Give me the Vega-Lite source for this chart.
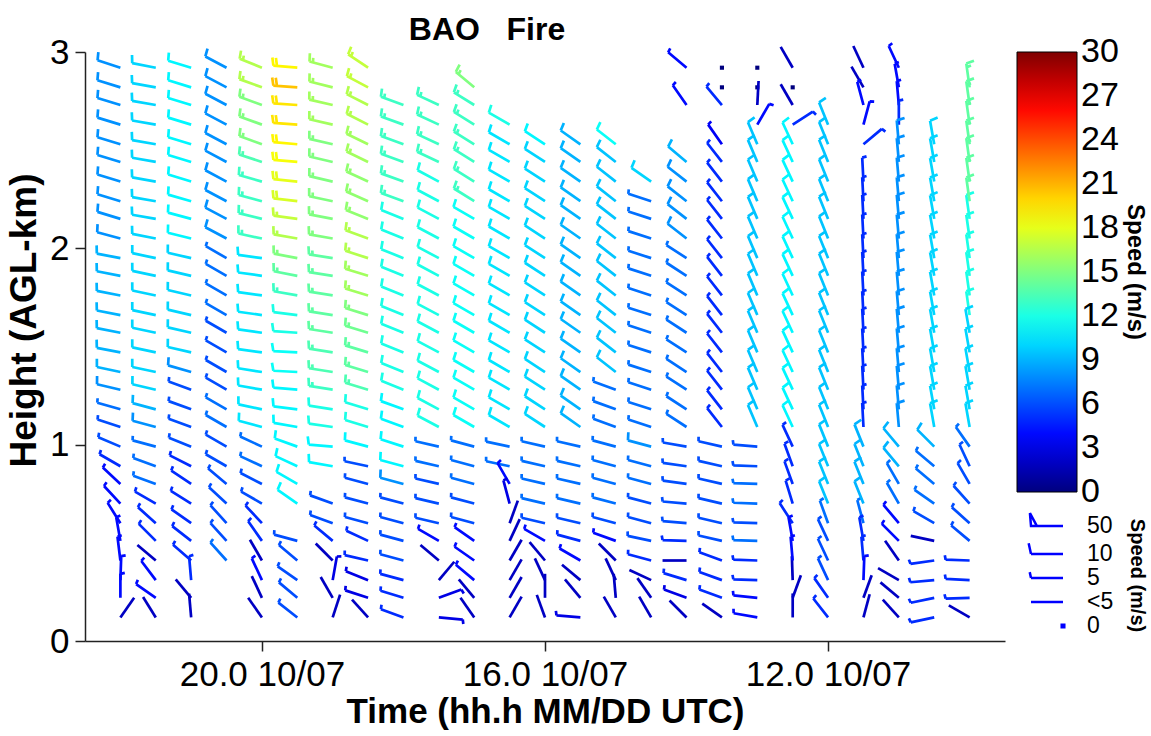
{
"$schema":"https://vega.github.io/schema/vega-lite/v6.json",
"width":920,"height":589,
"autosize":{"type":"none"},
"padding":{"left":85,"top":52,"right":146,"bottom":95},
"background":"white",
"config":{"font":"Liberation Sans","view":{"stroke":null},
"axis":{"domainColor":"#222","domainWidth":1.5,"tickColor":"#222","tickWidth":1.5,"tickSize":10,"labelColor":"black","titleColor":"black","labelFont":"Liberation Sans","titleFont":"Liberation Sans","labelFontSize":35,"titleFontSize":35,"titleFontWeight":"bold","grid":false,"labelFlush":false,"labelOverlap":false}},
"title":{"text":"BAO\u00a0\u00a0\u00a0Fire","fontSize":32,"fontWeight":"bold","font":"Liberation Sans","color":"black","anchor":"middle","frame":"group","dx":-58,"dy":24,"offset":12},
"resolve":{"axis":{"y":"independent"}},
"data":{"values":[
{"t":22,"h":2.92,"s":8,"d":288},{"t":22,"h":2.82,"s":8,"d":287},{"t":22,"h":2.73,"s":8,"d":287},{"t":22,"h":2.63,"s":8,"d":287},{"t":22,"h":2.53,"s":8,"d":287},{"t":22,"h":2.44,"s":8,"d":287},{"t":22,"h":2.34,"s":8,"d":287},{"t":22,"h":2.24,"s":8,"d":287},{"t":22,"h":2.15,"s":8,"d":287},{"t":22,"h":2.05,"s":8,"d":285},{"t":22,"h":1.95,"s":9,"d":281},{"t":22,"h":1.86,"s":9,"d":281},{"t":22,"h":1.76,"s":9,"d":281},{"t":22,"h":1.66,"s":9,"d":281},{"t":22,"h":1.57,"s":9,"d":281},{"t":22,"h":1.47,"s":9,"d":281},{"t":22,"h":1.37,"s":9,"d":282},{"t":22,"h":1.28,"s":8,"d":283},{"t":22,"h":1.18,"s":7,"d":286},{"t":22,"h":1.09,"s":6,"d":288},{"t":22,"h":0.99,"s":6,"d":293},{"t":22,"h":0.89,"s":5,"d":300},{"t":22,"h":0.8,"s":4,"d":313},{"t":22,"h":0.7,"s":4,"d":317},{"t":22,"h":0.6,"s":4,"d":328},{"t":22,"h":0.51,"s":4,"d":350},{"t":22,"h":0.41,"s":4,"d":353},{"t":22,"h":0.31,"s":4,"d":2},{"t":22,"h":0.22,"s":4,"d":0},{"t":22,"h":0.12,"s":2,"d":35},
{"t":21.5,"h":2.92,"s":10,"d":281},{"t":21.5,"h":2.82,"s":10,"d":280},{"t":21.5,"h":2.73,"s":10,"d":280},{"t":21.5,"h":2.63,"s":10,"d":280},{"t":21.5,"h":2.53,"s":10,"d":280},{"t":21.5,"h":2.44,"s":10,"d":280},{"t":21.5,"h":2.34,"s":10,"d":280},{"t":21.5,"h":2.24,"s":10,"d":280},{"t":21.5,"h":2.15,"s":10,"d":280},{"t":21.5,"h":2.05,"s":10,"d":281},{"t":21.5,"h":1.95,"s":10,"d":282},{"t":21.5,"h":1.86,"s":10,"d":282},{"t":21.5,"h":1.76,"s":10,"d":282},{"t":21.5,"h":1.66,"s":10,"d":282},{"t":21.5,"h":1.57,"s":10,"d":282},{"t":21.5,"h":1.47,"s":10,"d":282},{"t":21.5,"h":1.37,"s":10,"d":282},{"t":21.5,"h":1.28,"s":10,"d":283},{"t":21.5,"h":1.18,"s":9,"d":285},{"t":21.5,"h":1.09,"s":8,"d":285},{"t":21.5,"h":0.99,"s":7,"d":285},{"t":21.5,"h":0.89,"s":7,"d":290},{"t":21.5,"h":0.8,"s":7,"d":290},{"t":21.5,"h":0.7,"s":5,"d":300},{"t":21.5,"h":0.6,"s":5,"d":312},{"t":21.5,"h":0.51,"s":5,"d":315},{"t":21.5,"h":0.41,"s":2,"d":310},{"t":21.5,"h":0.31,"s":4,"d":323},{"t":21.5,"h":0.22,"s":4,"d":305},{"t":21.5,"h":0.12,"s":2,"d":328},
{"t":21,"h":2.92,"s":11,"d":287},{"t":21,"h":2.82,"s":11,"d":287},{"t":21,"h":2.73,"s":11,"d":287},{"t":21,"h":2.63,"s":11,"d":287},{"t":21,"h":2.53,"s":11,"d":287},{"t":21,"h":2.44,"s":11,"d":287},{"t":21,"h":2.34,"s":11,"d":287},{"t":21,"h":2.24,"s":11,"d":286},{"t":21,"h":2.15,"s":11,"d":285},{"t":21,"h":2.05,"s":11,"d":284},{"t":21,"h":1.95,"s":10,"d":283},{"t":21,"h":1.86,"s":10,"d":283},{"t":21,"h":1.76,"s":10,"d":283},{"t":21,"h":1.66,"s":10,"d":283},{"t":21,"h":1.57,"s":10,"d":283},{"t":21,"h":1.47,"s":10,"d":283},{"t":21,"h":1.37,"s":8,"d":286},{"t":21,"h":1.28,"s":6,"d":290},{"t":21,"h":1.18,"s":6,"d":290},{"t":21,"h":1.09,"s":6,"d":290},{"t":21,"h":0.99,"s":6,"d":292},{"t":21,"h":0.89,"s":5,"d":297},{"t":21,"h":0.8,"s":5,"d":304},{"t":21,"h":0.7,"s":5,"d":302},{"t":21,"h":0.6,"s":5,"d":305},{"t":21,"h":0.51,"s":5,"d":308},{"t":21,"h":0.41,"s":5,"d":311},{"t":21,"h":0.31,"s":5,"d":355},{"t":21,"h":0.22,"s":2,"d":320},{"t":21,"h":0.12,"s":2,"d":355},
{"t":20.5,"h":2.92,"s":8,"d":298},{"t":20.5,"h":2.82,"s":8,"d":298},{"t":20.5,"h":2.73,"s":8,"d":298},{"t":20.5,"h":2.63,"s":8,"d":298},{"t":20.5,"h":2.53,"s":8,"d":298},{"t":20.5,"h":2.44,"s":8,"d":298},{"t":20.5,"h":2.34,"s":8,"d":298},{"t":20.5,"h":2.24,"s":8,"d":298},{"t":20.5,"h":2.15,"s":8,"d":298},{"t":20.5,"h":2.05,"s":8,"d":298},{"t":20.5,"h":1.95,"s":7,"d":300},{"t":20.5,"h":1.86,"s":7,"d":300},{"t":20.5,"h":1.76,"s":7,"d":300},{"t":20.5,"h":1.66,"s":7,"d":300},{"t":20.5,"h":1.57,"s":6,"d":300},{"t":20.5,"h":1.47,"s":6,"d":300},{"t":20.5,"h":1.37,"s":6,"d":300},{"t":20.5,"h":1.28,"s":6,"d":300},{"t":20.5,"h":1.18,"s":7,"d":300},{"t":20.5,"h":1.09,"s":7,"d":300},{"t":20.5,"h":0.99,"s":6,"d":300},{"t":20.5,"h":0.89,"s":6,"d":300},{"t":20.5,"h":0.8,"s":6,"d":310},{"t":20.5,"h":0.7,"s":6,"d":313},{"t":20.5,"h":0.6,"s":6,"d":318},{"t":20.5,"h":0.51,"s":6,"d":318},{"t":20.5,"h":0.41,"s":7,"d":318},
{"t":20,"h":2.92,"s":16.5,"d":292},{"t":20,"h":2.82,"s":16.5,"d":290},{"t":20,"h":2.73,"s":15,"d":290},{"t":20,"h":2.63,"s":15,"d":290},{"t":20,"h":2.53,"s":15,"d":290},{"t":20,"h":2.44,"s":13.5,"d":288},{"t":20,"h":2.34,"s":13,"d":286},{"t":20,"h":2.24,"s":13,"d":285},{"t":20,"h":2.15,"s":13,"d":284},{"t":20,"h":2.05,"s":13,"d":282},{"t":20,"h":1.95,"s":10.5,"d":278},{"t":20,"h":1.86,"s":10.5,"d":278},{"t":20,"h":1.76,"s":10.5,"d":278},{"t":20,"h":1.66,"s":10.5,"d":278},{"t":20,"h":1.57,"s":10.5,"d":278},{"t":20,"h":1.47,"s":10.5,"d":278},{"t":20,"h":1.37,"s":10.5,"d":279},{"t":20,"h":1.28,"s":10.5,"d":280},{"t":20,"h":1.18,"s":10.5,"d":282},{"t":20,"h":1.09,"s":10.5,"d":285},{"t":20,"h":0.99,"s":7,"d":295},{"t":20,"h":0.89,"s":7,"d":295},{"t":20,"h":0.8,"s":6,"d":297},{"t":20,"h":0.7,"s":6,"d":300},{"t":20,"h":0.6,"s":5,"d":317},{"t":20,"h":0.51,"s":5,"d":325},{"t":20,"h":0.41,"s":2,"d":330},{"t":20,"h":0.31,"s":4,"d":335},{"t":20,"h":0.22,"s":2,"d":335},{"t":20,"h":0.12,"s":2,"d":325},
{"t":19.5,"h":2.92,"s":19,"d":275},{"t":19.5,"h":2.82,"s":20.5,"d":274},{"t":19.5,"h":2.73,"s":19.5,"d":274},{"t":19.5,"h":2.63,"s":19.5,"d":274},{"t":19.5,"h":2.53,"s":19,"d":275},{"t":19.5,"h":2.44,"s":18.5,"d":275},{"t":19.5,"h":2.34,"s":18,"d":276},{"t":19.5,"h":2.24,"s":17.6,"d":277},{"t":19.5,"h":2.15,"s":17,"d":278},{"t":19.5,"h":2.05,"s":16.5,"d":280},{"t":19.5,"h":1.95,"s":15,"d":281},{"t":19.5,"h":1.86,"s":14,"d":281},{"t":19.5,"h":1.76,"s":13,"d":280},{"t":19.5,"h":1.66,"s":12,"d":277},{"t":19.5,"h":1.57,"s":12,"d":274},{"t":19.5,"h":1.47,"s":11.5,"d":273},{"t":19.5,"h":1.37,"s":11.5,"d":273},{"t":19.5,"h":1.28,"s":11,"d":275},{"t":19.5,"h":1.18,"s":11,"d":277},{"t":19.5,"h":1.09,"s":11,"d":280},{"t":19.5,"h":0.99,"s":11,"d":290},{"t":19.5,"h":0.89,"s":11,"d":295},{"t":19.5,"h":0.8,"s":11,"d":300},{"t":19.5,"h":0.7,"s":11,"d":305},{"t":19.5,"h":0.51,"s":6,"d":285},{"t":19.5,"h":0.41,"s":6,"d":310},{"t":19.5,"h":0.31,"s":6,"d":305},{"t":19.5,"h":0.22,"s":6,"d":310},{"t":19.5,"h":0.12,"s":6,"d":308},
{"t":19,"h":2.92,"s":16,"d":285},{"t":19,"h":2.82,"s":16,"d":284},{"t":19,"h":2.73,"s":16,"d":283},{"t":19,"h":2.63,"s":16,"d":283},{"t":19,"h":2.53,"s":15,"d":283},{"t":19,"h":2.44,"s":15,"d":283},{"t":19,"h":2.34,"s":15,"d":283},{"t":19,"h":2.24,"s":15,"d":282},{"t":19,"h":2.15,"s":15,"d":281},{"t":19,"h":2.05,"s":15,"d":280},{"t":19,"h":1.95,"s":14,"d":279},{"t":19,"h":1.86,"s":14,"d":279},{"t":19,"h":1.76,"s":14,"d":279},{"t":19,"h":1.66,"s":14,"d":279},{"t":19,"h":1.57,"s":14,"d":279},{"t":19,"h":1.47,"s":13.5,"d":279},{"t":19,"h":1.37,"s":13.5,"d":279},{"t":19,"h":1.28,"s":13,"d":279},{"t":19,"h":1.18,"s":12,"d":279},{"t":19,"h":1.09,"s":12,"d":278},{"t":19,"h":0.99,"s":11,"d":275},{"t":19,"h":0.89,"s":11,"d":280},{"t":19,"h":0.7,"s":6,"d":290},{"t":19,"h":0.6,"s":6,"d":290},{"t":19,"h":0.51,"s":5,"d":310},{"t":19,"h":0.41,"s":2,"d":315},{"t":19,"h":0.31,"s":3,"d":10},{"t":19,"h":0.22,"s":2,"d":330},{"t":19,"h":0.12,"s":2,"d":18},
{"t":18.5,"h":2.92,"s":17,"d":304},{"t":18.5,"h":2.82,"s":17,"d":298},{"t":18.5,"h":2.73,"s":16.5,"d":297},{"t":18.5,"h":2.63,"s":16.5,"d":297},{"t":18.5,"h":2.53,"s":16,"d":296},{"t":18.5,"h":2.44,"s":16,"d":296},{"t":18.5,"h":2.34,"s":15.5,"d":295},{"t":18.5,"h":2.24,"s":15.5,"d":294},{"t":18.5,"h":2.15,"s":15.5,"d":292},{"t":18.5,"h":2.05,"s":16.5,"d":290},{"t":18.5,"h":1.95,"s":16.5,"d":288},{"t":18.5,"h":1.86,"s":16,"d":287},{"t":18.5,"h":1.76,"s":16,"d":287},{"t":18.5,"h":1.66,"s":15,"d":287},{"t":18.5,"h":1.57,"s":14.5,"d":287},{"t":18.5,"h":1.47,"s":14,"d":287},{"t":18.5,"h":1.37,"s":14,"d":287},{"t":18.5,"h":1.28,"s":13.5,"d":287},{"t":18.5,"h":1.18,"s":12,"d":287},{"t":18.5,"h":1.09,"s":12,"d":287},{"t":18.5,"h":0.99,"s":11,"d":285},{"t":18.5,"h":0.89,"s":6,"d":282},{"t":18.5,"h":0.8,"s":6,"d":285},{"t":18.5,"h":0.7,"s":6,"d":285},{"t":18.5,"h":0.6,"s":6,"d":285},{"t":18.5,"h":0.51,"s":5,"d":295},{"t":18.5,"h":0.41,"s":5,"d":283},{"t":18.5,"h":0.31,"s":3,"d":292},{"t":18.5,"h":0.22,"s":3,"d":288},{"t":18.5,"h":0.12,"s":2,"d":318},
{"t":18,"h":2.73,"s":13,"d":290},{"t":18,"h":2.63,"s":13,"d":290},{"t":18,"h":2.53,"s":13,"d":290},{"t":18,"h":2.44,"s":13,"d":290},{"t":18,"h":2.34,"s":13,"d":290},{"t":18,"h":2.24,"s":13,"d":290},{"t":18,"h":2.15,"s":12,"d":292},{"t":18,"h":2.05,"s":12,"d":292},{"t":18,"h":1.95,"s":12,"d":292},{"t":18,"h":1.86,"s":12,"d":292},{"t":18,"h":1.76,"s":12,"d":292},{"t":18,"h":1.66,"s":12,"d":292},{"t":18,"h":1.57,"s":12,"d":292},{"t":18,"h":1.47,"s":12,"d":292},{"t":18,"h":1.37,"s":12,"d":292},{"t":18,"h":1.28,"s":12,"d":292},{"t":18,"h":1.18,"s":11,"d":290},{"t":18,"h":1.09,"s":11,"d":290},{"t":18,"h":0.99,"s":11,"d":288},{"t":18,"h":0.89,"s":11,"d":285},{"t":18,"h":0.8,"s":8,"d":285},{"t":18,"h":0.7,"s":6,"d":285},{"t":18,"h":0.6,"s":6,"d":285},{"t":18,"h":0.51,"s":6,"d":285},{"t":18,"h":0.41,"s":6,"d":285},{"t":18,"h":0.31,"s":5,"d":285},{"t":18,"h":0.22,"s":5,"d":287},{"t":18,"h":0.12,"s":5,"d":290},
{"t":17.5,"h":2.73,"s":13,"d":295},{"t":17.5,"h":2.63,"s":13,"d":295},{"t":17.5,"h":2.53,"s":13,"d":295},{"t":17.5,"h":2.44,"s":13,"d":295},{"t":17.5,"h":2.34,"s":12,"d":298},{"t":17.5,"h":2.24,"s":12,"d":298},{"t":17.5,"h":2.15,"s":12,"d":298},{"t":17.5,"h":2.05,"s":12,"d":298},{"t":17.5,"h":1.95,"s":12,"d":298},{"t":17.5,"h":1.86,"s":12,"d":298},{"t":17.5,"h":1.76,"s":12,"d":298},{"t":17.5,"h":1.66,"s":12,"d":298},{"t":17.5,"h":1.57,"s":12,"d":298},{"t":17.5,"h":1.47,"s":12,"d":298},{"t":17.5,"h":1.37,"s":12,"d":298},{"t":17.5,"h":1.28,"s":12,"d":298},{"t":17.5,"h":1.18,"s":12,"d":298},{"t":17.5,"h":1.09,"s":12,"d":298},{"t":17.5,"h":0.99,"s":7,"d":283},{"t":17.5,"h":0.89,"s":7,"d":283},{"t":17.5,"h":0.8,"s":6,"d":283},{"t":17.5,"h":0.7,"s":6,"d":283},{"t":17.5,"h":0.6,"s":6,"d":283},{"t":17.5,"h":0.51,"s":4,"d":300},{"t":17.5,"h":0.41,"s":2,"d":310},{"t":17.5,"h":0.31,"s":2,"d":40},{"t":17.5,"h":0.22,"s":3,"d":70},{"t":17.5,"h":0.12,"s":3,"d":95},
{"t":17,"h":2.82,"s":15,"d":310},{"t":17,"h":2.73,"s":13,"d":302},{"t":17,"h":2.63,"s":13,"d":302},{"t":17,"h":2.53,"s":13,"d":302},{"t":17,"h":2.44,"s":13,"d":302},{"t":17,"h":2.34,"s":13,"d":302},{"t":17,"h":2.24,"s":13,"d":302},{"t":17,"h":2.15,"s":11.5,"d":300},{"t":17,"h":2.05,"s":11.5,"d":300},{"t":17,"h":1.95,"s":11.5,"d":300},{"t":17,"h":1.86,"s":11.5,"d":300},{"t":17,"h":1.76,"s":11.5,"d":300},{"t":17,"h":1.66,"s":11.5,"d":300},{"t":17,"h":1.57,"s":11.5,"d":300},{"t":17,"h":1.47,"s":11.5,"d":300},{"t":17,"h":1.37,"s":11.5,"d":300},{"t":17,"h":1.28,"s":11.5,"d":300},{"t":17,"h":1.18,"s":11.5,"d":300},{"t":17,"h":1.09,"s":11.5,"d":300},{"t":17,"h":0.99,"s":7,"d":285},{"t":17,"h":0.89,"s":7,"d":285},{"t":17,"h":0.8,"s":7,"d":285},{"t":17,"h":0.7,"s":6,"d":285},{"t":17,"h":0.6,"s":6,"d":285},{"t":17,"h":0.51,"s":4,"d":305},{"t":17,"h":0.41,"s":4,"d":305},{"t":17,"h":0.31,"s":4,"d":310},{"t":17,"h":0.22,"s":2,"d":320},{"t":17,"h":0.12,"s":2,"d":325},
{"t":16.5,"h":2.63,"s":12,"d":300},{"t":16.5,"h":2.53,"s":10.5,"d":300},{"t":16.5,"h":2.44,"s":10.5,"d":300},{"t":16.5,"h":2.34,"s":10.5,"d":300},{"t":16.5,"h":2.24,"s":10.5,"d":300},{"t":16.5,"h":2.15,"s":10.5,"d":300},{"t":16.5,"h":2.05,"s":10.5,"d":300},{"t":16.5,"h":1.95,"s":10.5,"d":300},{"t":16.5,"h":1.86,"s":10.5,"d":300},{"t":16.5,"h":1.76,"s":10.5,"d":300},{"t":16.5,"h":1.66,"s":10.5,"d":300},{"t":16.5,"h":1.57,"s":10.5,"d":300},{"t":16.5,"h":1.47,"s":10.5,"d":300},{"t":16.5,"h":1.37,"s":10.5,"d":300},{"t":16.5,"h":1.28,"s":10.5,"d":300},{"t":16.5,"h":1.18,"s":10.5,"d":300},{"t":16.5,"h":1.09,"s":10.5,"d":300},{"t":16.5,"h":0.99,"s":7,"d":282},{"t":16.5,"h":0.89,"s":7,"d":282},{"t":16.5,"h":0.8,"s":4,"d":330},{"t":16.5,"h":0.7,"s":3,"d":345},{"t":16.5,"h":0.6,"s":2,"d":20},{"t":16.5,"h":0.51,"s":2,"d":25},{"t":16.5,"h":0.41,"s":2,"d":30},{"t":16.5,"h":0.31,"s":2,"d":30},{"t":16.5,"h":0.22,"s":2,"d":30},{"t":16.5,"h":0.12,"s":2,"d":30},
{"t":16,"h":2.53,"s":11,"d":303},{"t":16,"h":2.44,"s":10,"d":303},{"t":16,"h":2.34,"s":10,"d":303},{"t":16,"h":2.24,"s":10,"d":303},{"t":16,"h":2.15,"s":10,"d":303},{"t":16,"h":2.05,"s":10,"d":303},{"t":16,"h":1.95,"s":10,"d":303},{"t":16,"h":1.86,"s":10,"d":303},{"t":16,"h":1.76,"s":10,"d":303},{"t":16,"h":1.66,"s":10,"d":303},{"t":16,"h":1.57,"s":10,"d":303},{"t":16,"h":1.47,"s":10,"d":303},{"t":16,"h":1.37,"s":10,"d":303},{"t":16,"h":1.28,"s":10,"d":303},{"t":16,"h":1.18,"s":10,"d":303},{"t":16,"h":1.09,"s":10,"d":303},{"t":16,"h":0.99,"s":7,"d":283},{"t":16,"h":0.89,"s":7,"d":283},{"t":16,"h":0.8,"s":7,"d":283},{"t":16,"h":0.7,"s":7,"d":283},{"t":16,"h":0.6,"s":6,"d":283},{"t":16,"h":0.51,"s":4,"d":300},{"t":16,"h":0.41,"s":2,"d":320},{"t":16,"h":0.31,"s":2,"d":335},{"t":16,"h":0.22,"s":2,"d":0},{"t":16,"h":0.12,"s":2,"d":340},
{"t":15.5,"h":2.53,"s":9,"d":305},{"t":15.5,"h":2.44,"s":9,"d":305},{"t":15.5,"h":2.34,"s":9,"d":305},{"t":15.5,"h":2.24,"s":9,"d":305},{"t":15.5,"h":2.15,"s":9,"d":305},{"t":15.5,"h":2.05,"s":9,"d":305},{"t":15.5,"h":1.95,"s":9,"d":305},{"t":15.5,"h":1.86,"s":9,"d":305},{"t":15.5,"h":1.76,"s":9,"d":305},{"t":15.5,"h":1.66,"s":9,"d":305},{"t":15.5,"h":1.57,"s":9,"d":305},{"t":15.5,"h":1.47,"s":9,"d":305},{"t":15.5,"h":1.37,"s":9,"d":305},{"t":15.5,"h":1.28,"s":9,"d":305},{"t":15.5,"h":1.18,"s":9,"d":305},{"t":15.5,"h":1.09,"s":9,"d":305},{"t":15.5,"h":0.99,"s":7,"d":283},{"t":15.5,"h":0.89,"s":7,"d":283},{"t":15.5,"h":0.8,"s":7,"d":283},{"t":15.5,"h":0.7,"s":7,"d":283},{"t":15.5,"h":0.6,"s":6,"d":283},{"t":15.5,"h":0.51,"s":5,"d":285},{"t":15.5,"h":0.41,"s":4,"d":300},{"t":15.5,"h":0.31,"s":2,"d":310},{"t":15.5,"h":0.22,"s":2,"d":320},{"t":15.5,"h":0.12,"s":3,"d":275},
{"t":15,"h":2.53,"s":11.5,"d":308},{"t":15,"h":2.44,"s":9.5,"d":308},{"t":15,"h":2.34,"s":9.5,"d":308},{"t":15,"h":2.24,"s":9.5,"d":308},{"t":15,"h":2.15,"s":9.5,"d":308},{"t":15,"h":2.05,"s":9.5,"d":308},{"t":15,"h":1.95,"s":9.5,"d":308},{"t":15,"h":1.86,"s":9.5,"d":308},{"t":15,"h":1.76,"s":9.5,"d":308},{"t":15,"h":1.66,"s":9.5,"d":308},{"t":15,"h":1.57,"s":9.5,"d":308},{"t":15,"h":1.47,"s":9.5,"d":308},{"t":15,"h":1.37,"s":9.5,"d":308},{"t":15,"h":1.28,"s":7,"d":290},{"t":15,"h":1.18,"s":7,"d":290},{"t":15,"h":1.09,"s":7,"d":290},{"t":15,"h":0.99,"s":7,"d":285},{"t":15,"h":0.89,"s":7,"d":285},{"t":15,"h":0.8,"s":7,"d":285},{"t":15,"h":0.7,"s":7,"d":285},{"t":15,"h":0.6,"s":6,"d":285},{"t":15,"h":0.51,"s":4,"d":290},{"t":15,"h":0.41,"s":2,"d":315},{"t":15,"h":0.31,"s":2,"d":335},{"t":15,"h":0.22,"s":2,"d":355},{"t":15,"h":0.12,"s":2,"d":330},
{"t":14.5,"h":2.34,"s":10,"d":305},{"t":14.5,"h":2.24,"s":7,"d":288},{"t":14.5,"h":2.15,"s":7,"d":288},{"t":14.5,"h":2.05,"s":7,"d":288},{"t":14.5,"h":1.95,"s":7,"d":288},{"t":14.5,"h":1.86,"s":7,"d":288},{"t":14.5,"h":1.76,"s":7,"d":288},{"t":14.5,"h":1.66,"s":7,"d":288},{"t":14.5,"h":1.57,"s":7,"d":288},{"t":14.5,"h":1.47,"s":7,"d":288},{"t":14.5,"h":1.37,"s":7,"d":288},{"t":14.5,"h":1.28,"s":7,"d":288},{"t":14.5,"h":1.18,"s":7,"d":288},{"t":14.5,"h":1.09,"s":7,"d":288},{"t":14.5,"h":0.99,"s":8,"d":285},{"t":14.5,"h":0.89,"s":7,"d":285},{"t":14.5,"h":0.8,"s":7,"d":285},{"t":14.5,"h":0.7,"s":6,"d":285},{"t":14.5,"h":0.6,"s":6,"d":285},{"t":14.5,"h":0.51,"s":6,"d":282},{"t":14.5,"h":0.41,"s":5,"d":285},{"t":14.5,"h":0.31,"s":2,"d":295},{"t":14.5,"h":0.22,"s":2,"d":325},{"t":14.5,"h":0.12,"s":2,"d":330},
{"t":14,"h":2.92,"s":4,"d":310},{"t":14,"h":2.73,"s":4,"d":325},{"t":14,"h":2.44,"s":9,"d":310},{"t":14,"h":2.34,"s":8,"d":308},{"t":14,"h":2.24,"s":8,"d":308},{"t":14,"h":2.15,"s":8,"d":308},{"t":14,"h":2.05,"s":8,"d":308},{"t":14,"h":1.95,"s":7,"d":303},{"t":14,"h":1.86,"s":7,"d":303},{"t":14,"h":1.76,"s":7,"d":303},{"t":14,"h":1.66,"s":7,"d":303},{"t":14,"h":1.57,"s":7,"d":303},{"t":14,"h":1.47,"s":7,"d":303},{"t":14,"h":1.37,"s":7,"d":303},{"t":14,"h":1.28,"s":7,"d":303},{"t":14,"h":1.18,"s":7,"d":303},{"t":14,"h":1.09,"s":7,"d":303},{"t":14,"h":0.99,"s":6,"d":280},{"t":14,"h":0.89,"s":6,"d":278},{"t":14,"h":0.8,"s":6,"d":278},{"t":14,"h":0.7,"s":6,"d":275},{"t":14,"h":0.6,"s":6,"d":275},{"t":14,"h":0.51,"s":5,"d":272},{"t":14,"h":0.41,"s":2,"d":270},{"t":14,"h":0.31,"s":5,"d":287},{"t":14,"h":0.22,"s":3,"d":290},{"t":14,"h":0.12,"s":2,"d":315},
{"t":13.5,"h":2.92,"s":0,"d":0},{"t":13.5,"h":2.82,"s":0,"d":0},{"t":13.5,"h":2.73,"s":5,"d":320},{"t":13.5,"h":2.53,"s":3.5,"d":325},{"t":13.5,"h":2.44,"s":5,"d":322},{"t":13.5,"h":2.34,"s":5,"d":322},{"t":13.5,"h":2.24,"s":5,"d":322},{"t":13.5,"h":2.15,"s":5,"d":322},{"t":13.5,"h":2.05,"s":5,"d":322},{"t":13.5,"h":1.95,"s":5,"d":322},{"t":13.5,"h":1.86,"s":5,"d":322},{"t":13.5,"h":1.76,"s":5,"d":322},{"t":13.5,"h":1.66,"s":5,"d":322},{"t":13.5,"h":1.57,"s":5,"d":322},{"t":13.5,"h":1.47,"s":5,"d":322},{"t":13.5,"h":1.37,"s":5,"d":322},{"t":13.5,"h":1.28,"s":5,"d":322},{"t":13.5,"h":1.18,"s":5,"d":322},{"t":13.5,"h":1.09,"s":5,"d":322},{"t":13.5,"h":0.99,"s":6,"d":283},{"t":13.5,"h":0.89,"s":6,"d":283},{"t":13.5,"h":0.8,"s":6,"d":283},{"t":13.5,"h":0.7,"s":6,"d":283},{"t":13.5,"h":0.6,"s":6,"d":283},{"t":13.5,"h":0.51,"s":6,"d":283},{"t":13.5,"h":0.41,"s":5,"d":290},{"t":13.5,"h":0.31,"s":5,"d":290},{"t":13.5,"h":0.22,"s":5,"d":290},{"t":13.5,"h":0.12,"s":2,"d":305},
{"t":13,"h":2.92,"s":0,"d":0},{"t":13,"h":2.82,"s":0,"d":0},{"t":13,"h":2.73,"s":2,"d":3},{"t":13,"h":2.63,"s":4,"d":30},{"t":13,"h":2.53,"s":9.5,"d":337},{"t":13,"h":2.44,"s":9.5,"d":337},{"t":13,"h":2.34,"s":9.5,"d":337},{"t":13,"h":2.24,"s":9.5,"d":337},{"t":13,"h":2.15,"s":9.5,"d":337},{"t":13,"h":2.05,"s":9.5,"d":337},{"t":13,"h":1.95,"s":9.5,"d":337},{"t":13,"h":1.86,"s":9.5,"d":337},{"t":13,"h":1.76,"s":9.5,"d":337},{"t":13,"h":1.66,"s":9.5,"d":337},{"t":13,"h":1.57,"s":9.5,"d":337},{"t":13,"h":1.47,"s":9.5,"d":337},{"t":13,"h":1.37,"s":9.5,"d":337},{"t":13,"h":1.28,"s":9.5,"d":337},{"t":13,"h":1.18,"s":9.5,"d":337},{"t":13,"h":1.09,"s":9.5,"d":337},{"t":13,"h":0.99,"s":6,"d":275},{"t":13,"h":0.89,"s":6,"d":272},{"t":13,"h":0.8,"s":7,"d":272},{"t":13,"h":0.7,"s":7,"d":272},{"t":13,"h":0.6,"s":6,"d":272},{"t":13,"h":0.51,"s":7,"d":272},{"t":13,"h":0.41,"s":5,"d":272},{"t":13,"h":0.31,"s":5,"d":272},{"t":13,"h":0.22,"s":4,"d":276},{"t":13,"h":0.12,"s":4,"d":280},
{"t":12.5,"h":2.92,"s":2,"d":330},{"t":12.5,"h":2.82,"s":0,"d":0},{"t":12.5,"h":2.73,"s":2,"d":330},{"t":12.5,"h":2.63,"s":5,"d":57},{"t":12.5,"h":2.53,"s":11,"d":335},{"t":12.5,"h":2.44,"s":11,"d":335},{"t":12.5,"h":2.34,"s":11,"d":335},{"t":12.5,"h":2.24,"s":11,"d":335},{"t":12.5,"h":2.15,"s":11,"d":335},{"t":12.5,"h":2.05,"s":11,"d":335},{"t":12.5,"h":1.95,"s":11,"d":335},{"t":12.5,"h":1.86,"s":11,"d":335},{"t":12.5,"h":1.76,"s":11,"d":335},{"t":12.5,"h":1.66,"s":11,"d":335},{"t":12.5,"h":1.57,"s":11,"d":335},{"t":12.5,"h":1.47,"s":11,"d":335},{"t":12.5,"h":1.37,"s":11,"d":335},{"t":12.5,"h":1.28,"s":11,"d":335},{"t":12.5,"h":1.18,"s":11,"d":335},{"t":12.5,"h":1.09,"s":11,"d":335},{"t":12.5,"h":0.99,"s":5,"d":335},{"t":12.5,"h":0.89,"s":5,"d":340},{"t":12.5,"h":0.8,"s":5,"d":340},{"t":12.5,"h":0.7,"s":5,"d":343},{"t":12.5,"h":0.6,"s":5,"d":327},{"t":12.5,"h":0.51,"s":4,"d":350},{"t":12.5,"h":0.41,"s":4,"d":355},{"t":12.5,"h":0.31,"s":2,"d":358},{"t":12.5,"h":0.22,"s":2,"d":20},{"t":12.5,"h":0.12,"s":2,"d":0},
{"t":12,"h":2.63,"s":9.5,"d":338},{"t":12,"h":2.53,"s":9.5,"d":338},{"t":12,"h":2.44,"s":9.5,"d":338},{"t":12,"h":2.34,"s":9.5,"d":338},{"t":12,"h":2.24,"s":9.5,"d":338},{"t":12,"h":2.15,"s":9.5,"d":338},{"t":12,"h":2.05,"s":9.5,"d":338},{"t":12,"h":1.95,"s":9.5,"d":338},{"t":12,"h":1.86,"s":9.5,"d":338},{"t":12,"h":1.76,"s":9.5,"d":338},{"t":12,"h":1.66,"s":9.5,"d":338},{"t":12,"h":1.57,"s":9.5,"d":338},{"t":12,"h":1.47,"s":9.5,"d":338},{"t":12,"h":1.37,"s":9.5,"d":338},{"t":12,"h":1.28,"s":9.5,"d":338},{"t":12,"h":1.18,"s":9.5,"d":338},{"t":12,"h":1.09,"s":9.5,"d":338},{"t":12,"h":0.99,"s":9.5,"d":338},{"t":12,"h":0.89,"s":9.5,"d":338},{"t":12,"h":0.8,"s":9.5,"d":338},{"t":12,"h":0.7,"s":9.5,"d":338},{"t":12,"h":0.6,"s":7,"d":340},{"t":12,"h":0.51,"s":6,"d":335},{"t":12,"h":0.41,"s":6,"d":335},{"t":12,"h":0.31,"s":6,"d":335},{"t":12,"h":0.22,"s":5,"d":325},{"t":12,"h":0.12,"s":5,"d":322},
{"t":11.5,"h":2.92,"s":2,"d":335},{"t":11.5,"h":2.82,"s":2,"d":330},{"t":11.5,"h":2.73,"s":4,"d":345},{"t":11.5,"h":2.63,"s":4,"d":15},{"t":11.5,"h":2.53,"s":5,"d":50},{"t":11.5,"h":2.34,"s":5,"d":357},{"t":11.5,"h":2.24,"s":5,"d":357},{"t":11.5,"h":2.15,"s":5,"d":357},{"t":11.5,"h":2.05,"s":5,"d":357},{"t":11.5,"h":1.95,"s":5,"d":357},{"t":11.5,"h":1.86,"s":5,"d":357},{"t":11.5,"h":1.76,"s":5,"d":357},{"t":11.5,"h":1.66,"s":5,"d":357},{"t":11.5,"h":1.57,"s":5,"d":357},{"t":11.5,"h":1.47,"s":5,"d":357},{"t":11.5,"h":1.37,"s":5,"d":357},{"t":11.5,"h":1.28,"s":5,"d":357},{"t":11.5,"h":1.18,"s":5,"d":357},{"t":11.5,"h":1.09,"s":5,"d":357},{"t":11.5,"h":0.99,"s":9,"d":338},{"t":11.5,"h":0.89,"s":9,"d":338},{"t":11.5,"h":0.8,"s":9,"d":338},{"t":11.5,"h":0.7,"s":9,"d":338},{"t":11.5,"h":0.6,"s":7,"d":345},{"t":11.5,"h":0.51,"s":5,"d":350},{"t":11.5,"h":0.41,"s":5,"d":355},{"t":11.5,"h":0.31,"s":4,"d":2},{"t":11.5,"h":0.22,"s":2,"d":20},{"t":11.5,"h":0.12,"s":2,"d":15},
{"t":11,"h":2.92,"s":4,"d":335},{"t":11,"h":2.82,"s":4,"d":350},{"t":11,"h":2.73,"s":4,"d":355},{"t":11,"h":2.63,"s":5,"d":0},{"t":11,"h":2.53,"s":8,"d":355},{"t":11,"h":2.44,"s":8,"d":355},{"t":11,"h":2.34,"s":8,"d":355},{"t":11,"h":2.24,"s":8,"d":355},{"t":11,"h":2.15,"s":8,"d":355},{"t":11,"h":2.05,"s":8,"d":355},{"t":11,"h":1.95,"s":8,"d":355},{"t":11,"h":1.86,"s":8,"d":355},{"t":11,"h":1.76,"s":8,"d":355},{"t":11,"h":1.66,"s":8,"d":355},{"t":11,"h":1.57,"s":8,"d":355},{"t":11,"h":1.47,"s":8,"d":355},{"t":11,"h":1.37,"s":8,"d":355},{"t":11,"h":1.28,"s":8,"d":355},{"t":11,"h":1.18,"s":8,"d":355},{"t":11,"h":1.09,"s":8,"d":355},{"t":11,"h":0.99,"s":9,"d":320},{"t":11,"h":0.89,"s":9,"d":320},{"t":11,"h":0.8,"s":7,"d":330},{"t":11,"h":0.7,"s":7,"d":330},{"t":11,"h":0.6,"s":4,"d":320},{"t":11,"h":0.51,"s":4,"d":315},{"t":11,"h":0.41,"s":2,"d":325},{"t":11,"h":0.31,"s":2,"d":300},{"t":11,"h":0.22,"s":2,"d":310},{"t":11,"h":0.12,"s":2,"d":318},
{"t":10.5,"h":2.53,"s":10,"d":350},{"t":10.5,"h":2.44,"s":10,"d":350},{"t":10.5,"h":2.34,"s":10,"d":350},{"t":10.5,"h":2.24,"s":10,"d":350},{"t":10.5,"h":2.15,"s":10,"d":350},{"t":10.5,"h":2.05,"s":10,"d":350},{"t":10.5,"h":1.95,"s":10,"d":350},{"t":10.5,"h":1.86,"s":10,"d":350},{"t":10.5,"h":1.76,"s":10,"d":350},{"t":10.5,"h":1.66,"s":10,"d":350},{"t":10.5,"h":1.57,"s":10,"d":350},{"t":10.5,"h":1.47,"s":10,"d":350},{"t":10.5,"h":1.37,"s":10,"d":350},{"t":10.5,"h":1.28,"s":10,"d":350},{"t":10.5,"h":1.18,"s":10,"d":350},{"t":10.5,"h":1.09,"s":10,"d":350},{"t":10.5,"h":0.99,"s":9,"d":315},{"t":10.5,"h":0.89,"s":7,"d":310},{"t":10.5,"h":0.8,"s":7,"d":310},{"t":10.5,"h":0.7,"s":7,"d":305},{"t":10.5,"h":0.6,"s":6,"d":300},{"t":10.5,"h":0.51,"s":2,"d":282},{"t":10.5,"h":0.41,"s":5,"d":262},{"t":10.5,"h":0.31,"s":5,"d":265},{"t":10.5,"h":0.22,"s":5,"d":258},{"t":10.5,"h":0.12,"s":5,"d":258},
{"t":10,"h":2.82,"s":14,"d":352},{"t":10,"h":2.73,"s":14,"d":352},{"t":10,"h":2.63,"s":14,"d":352},{"t":10,"h":2.53,"s":14,"d":352},{"t":10,"h":2.44,"s":14,"d":352},{"t":10,"h":2.34,"s":14,"d":352},{"t":10,"h":2.24,"s":14,"d":352},{"t":10,"h":2.15,"s":12,"d":352},{"t":10,"h":2.05,"s":12,"d":352},{"t":10,"h":1.95,"s":12,"d":352},{"t":10,"h":1.86,"s":12,"d":352},{"t":10,"h":1.76,"s":12,"d":352},{"t":10,"h":1.66,"s":12,"d":352},{"t":10,"h":1.57,"s":10,"d":350},{"t":10,"h":1.47,"s":10,"d":350},{"t":10,"h":1.37,"s":10,"d":350},{"t":10,"h":1.28,"s":10,"d":350},{"t":10,"h":1.18,"s":10,"d":350},{"t":10,"h":1.09,"s":10,"d":350},{"t":10,"h":0.99,"s":7,"d":325},{"t":10,"h":0.89,"s":6,"d":335},{"t":10,"h":0.8,"s":6,"d":330},{"t":10,"h":0.7,"s":6,"d":318},{"t":10,"h":0.6,"s":6,"d":312},{"t":10,"h":0.51,"s":6,"d":310},{"t":10,"h":0.41,"s":5,"d":272},{"t":10,"h":0.31,"s":5,"d":273},{"t":10,"h":0.22,"s":5,"d":268},{"t":10,"h":0.12,"s":2,"d":300}
]},
"encoding":{
"x":{"field":"t","type":"quantitative","scale":{"domain":[9.5,22.5],"reverse":true,"nice":false,"zero":false},"axis":{"values":[20,16,12],"labelExpr":"format(datum.value,'.1f') + ' 10/07'","labelPadding":6,"title":"Time (hh.h MM/DD UTC)","titlePadding":2}},
"angle":{"field":"d","type":"quantitative","scale":{"domain":[0,360],"range":[90,450]}},
"color":{"field":"s","type":"quantitative","scale":{"domain":[0,3.75,11.25,18.75,26.25,30],"range":["#00007f","#0000ff","#00ffff","#ffff00","#ff0000","#7f0000"],"interpolate":"rgb"},
"legend":{"orient":"none","legendX":932,"legendY":0,"direction":"vertical","gradientLength":440,"gradientThickness":60,"gradientStrokeColor":"black","gradientStrokeWidth":1,"values":[0.001,3,6,9,12,15,18,21,24,27,29.999],"labelExpr":"format(round(datum.value),'d')","labelOverlap":false,"labelBaseline":"middle","labelFontSize":34,"labelOffset":4,"labelColor":"black","labelFont":"Liberation Sans","title":"Speed (m/s)","titleOrient":"right","titleAnchor":"middle","titleFontSize":24,"titleFontWeight":"bold","titleColor":"black","titleFont":"Liberation Sans","titlePadding":4,"padding":0}}
},
"layer":[
{"transform":[{"filter":"datum.s < 0.5"}],"mark":{"type":"point","shape":"M-0.12,-0.12L0.12,-0.12L0.12,0.12L-0.12,0.12Z","filled":false,"size":256,"opacity":1,"strokeWidth":2.2},
"encoding":{"y":{"field":"h","type":"quantitative","scale":{"domain":[0,3],"nice":false,"zero":false},"axis":{"values":[0,1,2,3],"labelPadding":6,"title":"Height (AGL-km)","titleFontSize":37,"titlePadding":6,"titleY":268}}}},
{"transform":[{"filter":"datum.s >= 0.5 && datum.s < 2.5"}],"mark":{"type":"point","shape":"M0,0L-3,0","filled":false,"size":256,"opacity":1,"strokeWidth":2.7},
"encoding":{"y":{"field":"h","type":"quantitative","scale":{"domain":[0,3],"nice":false,"zero":false},"axis":null}}},
{"transform":[{"filter":"datum.s >= 2.5 && datum.s < 7.5"}],"mark":{"type":"point","shape":"M0,0L-3,0M-3,0L-3.12,-0.55","filled":false,"size":256,"opacity":1,"strokeWidth":2.7},
"encoding":{"y":{"field":"h","type":"quantitative","scale":{"domain":[0,3],"nice":false,"zero":false},"axis":null}}},
{"transform":[{"filter":"datum.s >= 7.5 && datum.s < 12.5"}],"mark":{"type":"point","shape":"M0,0L-3,0M-3,0L-3.22,-1.0","filled":false,"size":256,"opacity":1,"strokeWidth":2.7},
"encoding":{"y":{"field":"h","type":"quantitative","scale":{"domain":[0,3],"nice":false,"zero":false},"axis":null}}},
{"transform":[{"filter":"datum.s >= 12.5 && datum.s < 17.5"}],"mark":{"type":"point","shape":"M0,0L-3,0M-3,0L-3.22,-1.0M-2.55,0L-2.67,-0.55","filled":false,"size":256,"opacity":1,"strokeWidth":2.7},
"encoding":{"y":{"field":"h","type":"quantitative","scale":{"domain":[0,3],"nice":false,"zero":false},"axis":null}}},
{"transform":[{"filter":"datum.s >= 17.5"}],"mark":{"type":"point","shape":"M0,0L-3,0M-3,0L-3.22,-1.0M-2.55,0L-2.77,-1.0","filled":false,"size":256,"opacity":1,"strokeWidth":2.7},
"encoding":{"y":{"field":"h","type":"quantitative","scale":{"domain":[0,3],"nice":false,"zero":false},"axis":null}}},
{"data":{"values":[{"k":"50"},{"k":"10"},{"k":"5"},{"k":"<5"},{"k":"0"}]},
"mark":{"type":"point","opacity":0,"size":1},
"encoding":{"x":{"datum":16,"type":"quantitative"},
"y":{"datum":1.5,"type":"quantitative","scale":{"domain":[0,3],"nice":false,"zero":false},"axis":{"orient":"right","domain":false,"ticks":false,"labels":false,"grid":false,"title":"Speed (m/s)","titleAngle":90,"titleFontSize":20,"titleFontWeight":"bold","titleX":131,"titleY":523,"titleAlign":"center","titleBaseline":"middle"}},
"color":{"value":"blue"},"angle":{"value":0},
"shape":{"field":"k","type":"nominal","scale":{"domain":["50","10","5","<5","0"],"range":["M0,0L-3,0M-3,0L-3.1,-1.2L-2.45,0Z","M0,0L-3,0M-3,0L-3.22,-1.0","M0,0L-3,0M-3,0L-3.12,-0.55","M0,0L-3,0","M-0.12,-0.12L0.12,-0.12L0.12,0.12L-0.12,0.12Z"]},
"legend":{"orient":"none","legendX":966,"legendY":462,"padding":0,"title":null,"labelFontSize":23,"labelColor":"black","labelFont":"Liberation Sans","labelOffset":12,"symbolSize":455,"symbolStrokeWidth":2.5,"symbolOpacity":1,"rowPadding":0,
"encode":{"symbols":{"update":{"opacity":{"value":1},"fill":{"value":"blue"},"stroke":{"value":"blue"},"strokeWidth":{"value":2.5}}}}}}}}
]
}
